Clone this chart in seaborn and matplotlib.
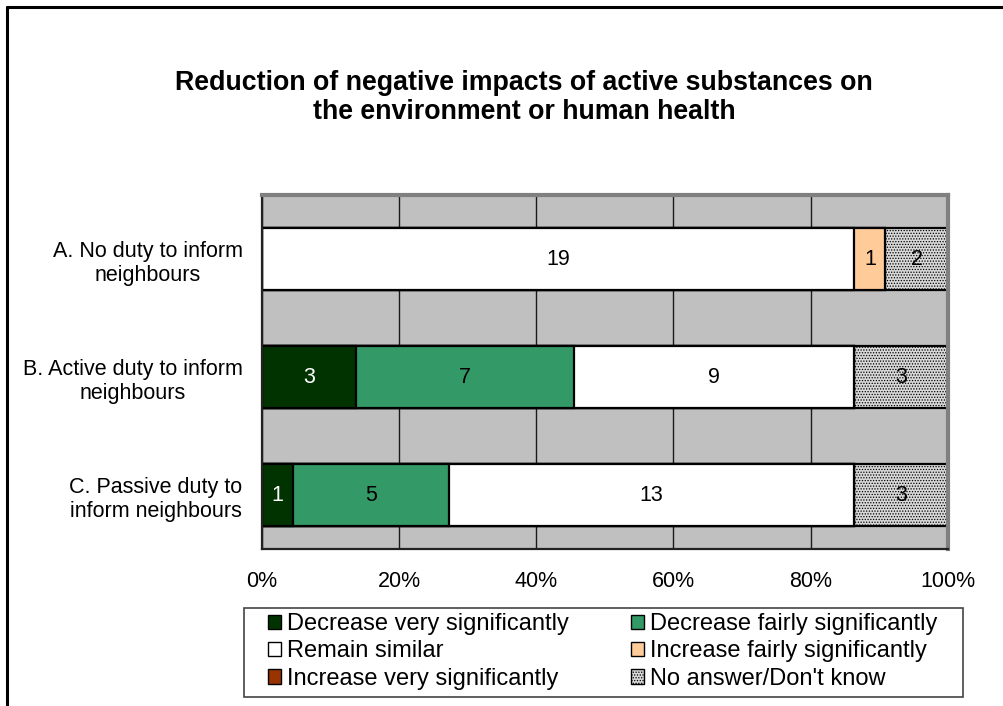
import numpy as np
import pandas as pd
import matplotlib
matplotlib.use("Agg")
import matplotlib.pyplot as plt
from matplotlib.lines import Line2D
from matplotlib.patches import Patch, Rectangle
from matplotlib.ticker import FixedLocator
import seaborn as sns

# Survey answers (number of respondents) per option
categories = [
    "A. No duty to inform\nneighbours",
    "B. Active duty to inform\nneighbours",
    "C. Passive duty to\ninform neighbours",
]
series_names = [
    "Decrease very significantly",
    "Decrease fairly significantly",
    "Remain similar",
    "Increase fairly significantly",
    "Increase very significantly",
    "No answer/Don't know",
]
decrease_very = [0, 3, 1]
decrease_fairly = [0, 7, 5]
remain_similar = [19, 9, 13]
increase_fairly = [1, 0, 0]
increase_very = [0, 0, 0]
no_answer = [2, 3, 3]

series_values = [decrease_very, decrease_fairly, remain_similar,
                 increase_fairly, increase_very, no_answer]
colors = ["#003300", "#339966", "#FFFFFF", "#FFCC99", "#993300", "#D8D8D8"]
hatches = [None, None, None, None, None, "......"]
text_colors = ["white", "black", "black", "black", "white", "black"]
x_ticks = [0, 20, 40, 60, 80, 100]

sns.set_style("white")
plt.rcParams["font.family"] = ["Liberation Sans", "DejaVu Sans"]
plt.rcParams["text.color"] = "black"
plt.rcParams["xtick.labelcolor"] = "black"
plt.rcParams["ytick.labelcolor"] = "black"
plt.rcParams["hatch.color"] = "#808080"
plt.rcParams["hatch.linewidth"] = 0.6

counts = np.array(series_values, dtype=float)      # shape (series, categories)
totals = counts.sum(axis=0)
shares = counts / totals * 100.0
cum = np.cumsum(shares, axis=0)

df = pd.DataFrame({"category": categories})
for i, name in enumerate(series_names):
    df[name] = cum[i]

fig = plt.figure(figsize=(10.04, 7.06), dpi=100)
ax = fig.add_axes([0.261, 0.2224, 0.683, 0.5014])
ax.set_facecolor("#C0C0C0")

# Stacked bars: draw cumulative totals from the outermost segment inward
for i in reversed(range(len(series_names))):
    kw = {}
    if hatches[i]:
        kw["hatch"] = hatches[i]
    sns.barplot(data=df, x=series_names[i], y="category", orient="y",
                color=colors[i], saturation=1, width=0.525,
                edgecolor="black", linewidth=1.6, ax=ax, **kw)

# Count labels centred in each segment
for j in range(len(categories)):
    for i in range(len(series_names)):
        v = counts[i, j]
        if v <= 0:
            continue
        left = cum[i, j] - shares[i, j]
        ax.text(left + shares[i, j] / 2, j, f"{int(v)}", ha="center",
                va="center", fontsize=15.5, color=text_colors[i])

# Bars sit a little below the middle of each category band
offset = -0.045
ax.set_xlim(0, 100)
ax.set_ylim(2.5 + offset, -0.5 + offset)
ax.set_xticks(x_ticks)
ax.set_xticklabels([f"{t}%" for t in x_ticks], fontsize=15.5)
ax.set_yticks(range(len(categories)))
ax.set_yticklabels(categories, fontsize=15.5, multialignment="center")
ax.yaxis.set_minor_locator(FixedLocator([b + offset for b in (-0.5, 0.5, 1.5, 2.5)]))
ax.tick_params(axis="y", which="major", length=0, pad=14)
ax.tick_params(axis="y", which="minor", length=6, width=1.2, color="#333333", direction="out")
ax.tick_params(axis="x", which="major", length=6, width=1.2, color="#333333",
               direction="out", pad=10)
ax.set_xlabel("")
ax.set_ylabel("")

ax.xaxis.grid(True, color="#1a1a1a", linewidth=1.0)
ax.set_axisbelow(True)

for side in ["top", "right"]:
    ax.spines[side].set_color("#808080")
    ax.spines[side].set_linewidth(3)
for side in ["left", "bottom"]:
    ax.spines[side].set_color("#222222")
    ax.spines[side].set_linewidth(1.6)

fig.text(0.522, 0.8625,
         "Reduction of negative impacts of active substances on\nthe environment or human health",
         ha="center", va="center", fontsize=19.3, fontweight="bold", linespacing=1.15)

# Legend: filled row by row across two columns, inside a plain box
fig.add_artist(Rectangle((244 / 1004, 1 - 697 / 706), (963 - 244) / 1004, (697 - 608) / 706,
                         transform=fig.transFigure, facecolor="white",
                         edgecolor="#444444", linewidth=1.2))
handles = [Patch(facecolor=colors[i], edgecolor="black", linewidth=1.0,
                 hatch=hatches[i]) for i in range(len(series_names))]
order = [0, 2, 4, 1, 3, 5]
leg = fig.legend([handles[i] for i in order], [series_names[i] for i in order],
                 ncol=2, loc="upper left", bbox_to_anchor=(268 / 1004, 1 - 613 / 706),
                 fontsize=17, frameon=False,
                 handlelength=0.55, handleheight=0.55, handletextpad=0.25,
                 labelspacing=0.23, columnspacing=2.65, borderpad=0,
                 borderaxespad=0)

# Outer chart border (runs off the right and bottom edges)
fig.add_artist(Line2D([0.007, 1.0], [0.9905, 0.9905], color="black", lw=2.2,
                      transform=fig.transFigure))
fig.add_artist(Line2D([0.007, 0.007], [0.0, 0.9905], color="black", lw=2.2,
                      transform=fig.transFigure))

fig.savefig("out.png", dpi=100)
